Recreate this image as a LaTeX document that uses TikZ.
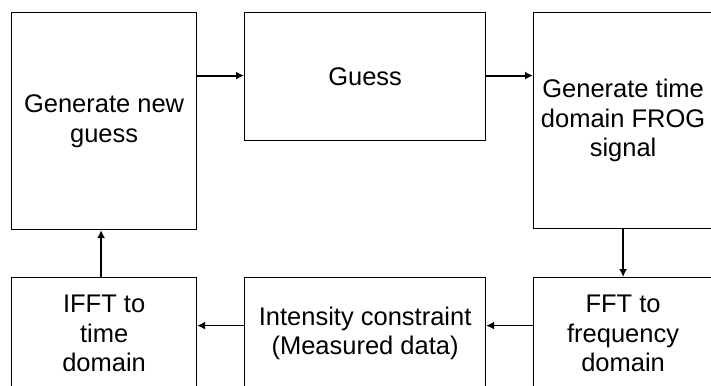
\documentclass[tikz,border=0pt]{standalone}
\usepackage{fontspec}
\setmainfont{Liberation Sans}
\usetikzlibrary{arrows.meta}
\begin{document}
\begin{tikzpicture}[x=1pt,y=-1pt,
  box/.style={draw=black, line width=1.2pt, anchor=north west, inner sep=0pt,
    align=center, font=\fontsize{25.5}{29.5}\selectfont},
  arrthick/.style={line width=2pt, -{Latex[length=8pt,width=8pt]}},
  arrthin/.style={line width=1.3pt, -{Latex[length=8pt,width=8pt]}}]
\useasboundingbox (0,0) rectangle (711,385);
\fill[white] (0,0) rectangle (711,385);
\node[box, minimum width=185pt, minimum height=217pt] (gen) at (11,12) {Generate new\\guess};
\node[box, minimum width=241pt, minimum height=128pt] (guess) at (244,12) {Guess};
\node[box, minimum width=179pt, minimum height=216pt] (frog) at (533,12) {Generate time\\domain FROG\\signal};
\node[box, minimum width=185pt, minimum height=112pt] (ifft) at (11,277) {IFFT to\\time\\domain};
\node[box, minimum width=241pt, minimum height=112pt] (int) at (244,277) {Intensity constraint\\(Measured data)};
\node[box, minimum width=179pt, minimum height=112pt] (fft) at (533,277) {FFT to\\frequency\\domain};
\draw[arrthick] ([yshift=1pt]gen.east |- guess.west) -- ([yshift=1pt]guess.west);
\draw[arrthick] ([yshift=1pt]guess.east) -- ([yshift=1pt]guess.east -| frog.west);
\draw[arrthick] (frog.south) -- (fft.north);
\draw[arrthin] ([yshift=8pt]fft.west) -- ([yshift=8pt]int.east);
\draw[arrthin] ([yshift=8pt]int.west) -- ([yshift=8pt]ifft.east);
\draw[arrthin] ([xshift=-3pt]ifft.north) -- ([xshift=-3pt]gen.south);
\end{tikzpicture}
\end{document}
